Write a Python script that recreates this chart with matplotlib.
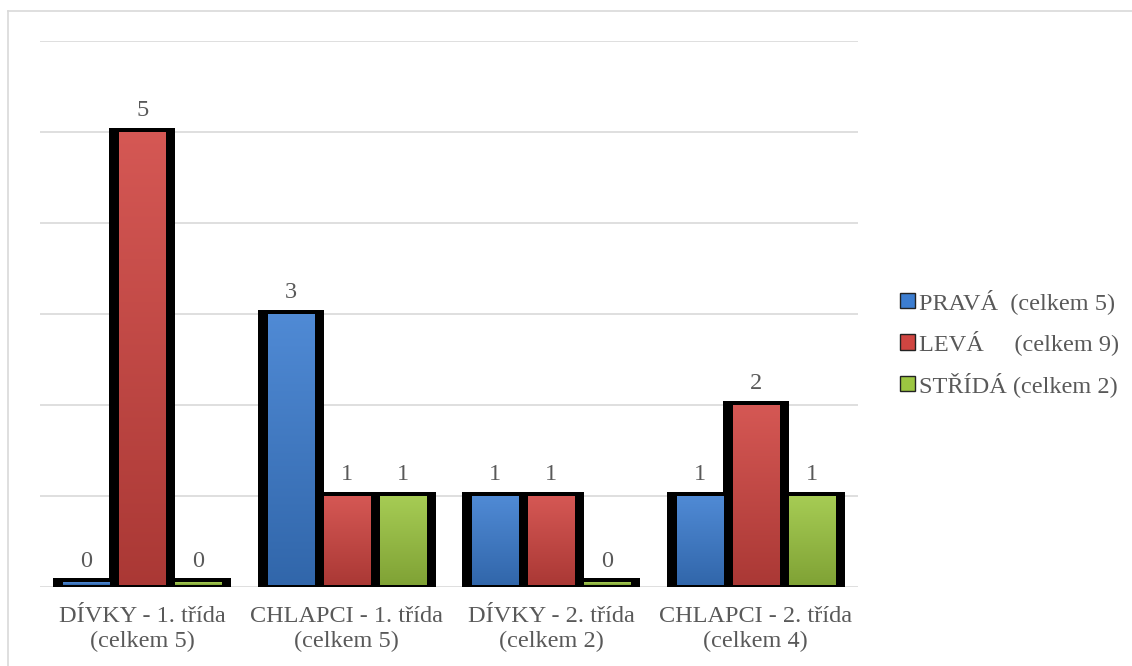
import numpy as np
import matplotlib.pyplot as plt
from matplotlib.patches import Patch
from matplotlib.lines import Line2D
from matplotlib.colors import to_rgb

# data
kategorie = ['DÍVKY - 1. třída\n(celkem 5)', 'CHLAPCI - 1. třída\n(celkem 5)',
             'DÍVKY - 2. třída\n(celkem 2)', 'CHLAPCI - 2. třída\n(celkem 4)']
serie = ['PRAVÁ  (celkem 5)', 'LEVÁ     (celkem 9)', 'STŘÍDÁ (celkem 2)']
prava = [0, 3, 1, 1]
leva = [5, 1, 1, 2]
strida = [0, 1, 0, 1]
barvy = ['#3c7dd0', '#d04541', '#9cc641']

plt.rcParams['font.family'] = ['Liberation Serif', 'DejaVu Serif']
seda = '#595959'
fs = 17.5

W, H = 1132, 666
fig = plt.figure(figsize=(W / 100, H / 100), dpi=100)
ax = fig.add_axes([40 / W, 1 - 587 / H, 818 / W, 546 / H])

# okraj grafu
fig.add_artist(Line2D([8 / W, 1], [1 - 11 / H, 1 - 11 / H], color='#d9d9d9', lw=1.2))
fig.add_artist(Line2D([8 / W, 8 / W], [0, 1 - 11 / H], color='#d9d9d9', lw=1.2))

# velikost pixelu v datovych jednotkach
px = 4 / 818
py = 6 / 546


def gradient(c):
    c = np.array(to_rgb(c))
    t = np.linspace(0, 1, 64)[:, None]
    top = c + (1 - c) * 0.10
    bot = c * 0.82
    g = top * (1 - t) + bot * t
    return g[:, None, :]


def sloupec(xc, v, w, c):
    # cerny ramecek za sloupcem
    vv = max(v, 5 * py)
    ax.bar(xc, vv + 6 * py, width=w + 10 * px, bottom=-2 * py, color='black',
           linewidth=0, zorder=3)
    x0, x1 = xc - w / 2 + 5 * px, xc + w / 2 - 5 * px
    ax.imshow(gradient(c), extent=(x0, x1, 2 * py, vv), aspect='auto',
              interpolation='bilinear', zorder=4)


x = np.arange(len(kategorie))
w = 0.274
for i, (vals, c) in enumerate(zip([prava, leva, strida], barvy)):
    pos = x + (i - 1) * w
    for p, v in zip(pos, vals):
        sloupec(p, v, w, c)
        off = 14.4 if v == 0 else 11.5
        ax.annotate(str(v), (p, v), xytext=(0, off), textcoords='offset points',
                    ha='center', va='baseline', fontsize=fs, color=seda, zorder=5)

ax.set_xlim(-0.5, 3.5)
ax.set_ylim(0, 6)
ax.set_yticks(range(7))
ax.yaxis.grid(True, color='#d9d9d9', lw=1.2)
ax.set_axisbelow(True)
ax.tick_params(axis='y', length=0, labelleft=False)
ax.tick_params(axis='x', length=0, pad=14)
ax.set_xticks(x)
ax.set_xticklabels(kategorie, fontsize=fs, color=seda, linespacing=1.22)
for s in ax.spines.values():
    s.set_visible(False)

handles = [Patch(facecolor=c, edgecolor='#222222', lw=1.0) for c in barvy]
leg = fig.legend(handles, serie, loc='center left', bbox_to_anchor=(893 / W, 1 - 343 / H),
                 frameon=False, fontsize=fs, handlelength=0.6, handleheight=0.6,
                 handletextpad=0.15, labelspacing=0.68, borderaxespad=0,
                 borderpad=0.3)
for t in leg.get_texts():
    t.set_color(seda)

fig.savefig('out.png', dpi=100)
